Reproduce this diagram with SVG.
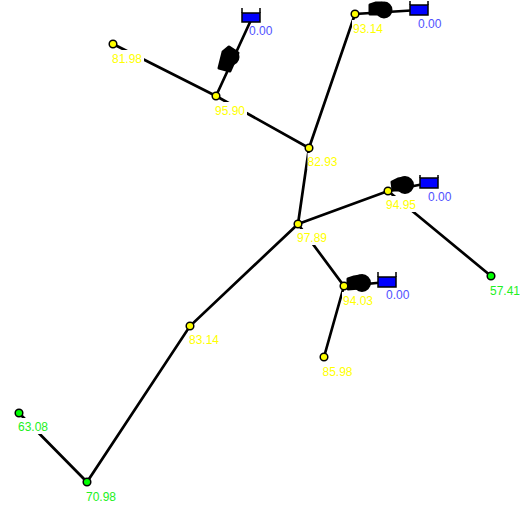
<svg xmlns="http://www.w3.org/2000/svg" width="528" height="510" viewBox="0 0 528 510">
<style>
.pipe{stroke:#000;stroke-width:2.7;fill:none;stroke-linecap:round}
.bg{fill:#fff}
.j{stroke:#000;stroke-width:1.5}
.y{fill:#ff0}
.g{fill:#0f0}
text{font-family:"Liberation Sans",Arial,sans-serif;font-size:12px}
.ty{fill:#ff0}
.tg{fill:#22f022}
.tb{fill:#5050ff}
.tank{fill:#00f;stroke:#000;stroke-width:1.5}
.wall{stroke:#000;stroke-width:1.5;fill:none}
.pb{fill:#000;stroke:#000;stroke-width:3;stroke-linejoin:round}
</style>
<rect width="528" height="510" fill="#fff"/>
<g id="connectors">
<path class="pipe" d="M113 44L216 96L309 148L298 224L190 326L87 482L19 413"/>
<path class="pipe" d="M309 148L355 14L419 10"/>
<path class="pipe" d="M216 96L251 20"/>
<path class="pipe" d="M298 224L388 191L429 183"/>
<path class="pipe" d="M298 224L344 286L387 282"/>
<path class="pipe" d="M344 286L324 357"/>
<path class="pipe" d="M388 191L491 276"/>
</g>
<g id="pumps">
<g id="p1"><path class="pb" d="M219 68L223 52L229 47L238 53L230 71Z"/><circle class="pb" cx="231" cy="57" r="7"/></g>
<g id="p2"><path class="pb" d="M370 5L376 3L382 3V14L370 14Z"/><circle class="pb" cx="384" cy="10" r="7"/></g>
<g id="p3"><path class="pb" d="M392 182L398 179L404 178V190L393 190Z"/><circle class="pb" cx="405" cy="185" r="7.5"/></g>
<g id="p4"><path class="pb" d="M348 279L354 277L360 276V288L348 289Z"/><circle class="pb" cx="362" cy="283" r="7.5"/></g>
</g>
<g id="label-backgrounds">
<rect class="bg" x="111" y="50" width="33" height="16"/>
<rect class="bg" x="214" y="102" width="33" height="16"/>
<rect class="bg" x="307.5" y="153" width="33" height="16"/>
<rect class="bg" x="296" y="229" width="33" height="16"/>
<rect class="bg" x="188" y="331" width="33" height="16"/>
<rect class="bg" x="85" y="488" width="33" height="16"/>
<rect class="bg" x="17" y="418" width="33" height="16"/>
<rect class="bg" x="352" y="20" width="33" height="16"/>
<rect class="bg" x="385" y="196" width="33" height="16"/>
<rect class="bg" x="342" y="292" width="33" height="16"/>
<rect class="bg" x="321" y="362" width="33" height="16"/>
<rect class="bg" x="489" y="282" width="33" height="16"/>
</g>
<g id="n1"><circle class="j y" cx="113" cy="44" r="3.8"/><text class="ty" x="112" y="63">81.98</text></g>
<g id="n2"><circle class="j y" cx="216" cy="96" r="3.8"/><text class="ty" x="215" y="115">95.90</text></g>
<g id="n3"><circle class="j y" cx="309" cy="148" r="3.8"/><text class="ty" x="307.5" y="166">82.93</text></g>
<g id="n4"><circle class="j y" cx="298" cy="224" r="3.8"/><text class="ty" x="297" y="242">97.89</text></g>
<g id="n5"><circle class="j y" cx="190" cy="326" r="3.8"/><text class="ty" x="189" y="344">83.14</text></g>
<g id="n6"><circle class="j g" cx="87" cy="482" r="3.8"/><text class="tg" x="86" y="501">70.98</text></g>
<g id="n7"><circle class="j g" cx="19" cy="413" r="3.8"/><text class="tg" x="18" y="431">63.08</text></g>
<g id="n8"><circle class="j y" cx="355" cy="14" r="3.8"/><text class="ty" x="353" y="33">93.14</text></g>
<g id="n9"><circle class="j y" cx="388" cy="191" r="3.8"/><text class="ty" x="386" y="209">94.95</text></g>
<g id="n10"><circle class="j y" cx="344" cy="286" r="3.8"/><text class="ty" x="343" y="305">94.03</text></g>
<g id="n11"><circle class="j y" cx="324" cy="357" r="3.8"/><text class="ty" x="322.5" y="376">85.98</text></g>
<g id="n12"><circle class="j g" cx="491" cy="276" r="3.8"/><text class="tg" x="490" y="295">57.41</text></g>
<g id="t1"><rect class="tank" x="242" y="13" width="18" height="9"/><path class="wall" d="M242 8V13M260 8V13"/><text class="tb" x="249" y="35">0.00</text></g>
<g id="t2"><rect class="tank" x="410" y="5" width="18" height="10"/><path class="wall" d="M410 1V5M428 1V5"/><text class="tb" x="418" y="28">0.00</text></g>
<g id="t3"><rect class="tank" x="420" y="178" width="18" height="10"/><path class="wall" d="M420 175V178M438 175V178"/><text class="tb" x="428" y="201">0.00</text></g>
<g id="t4"><rect class="tank" x="378" y="277" width="18" height="10"/><path class="wall" d="M378 272V277M396 272V277"/><text class="tb" x="386" y="299">0.00</text></g>
</svg>
